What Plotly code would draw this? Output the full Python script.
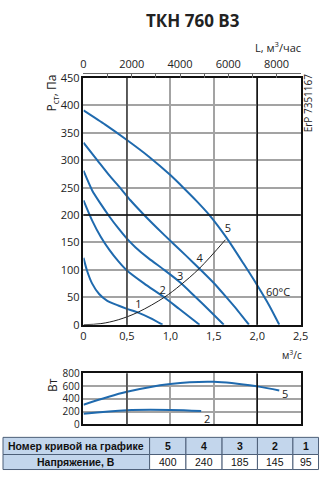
import plotly.graph_objects as go

# ---------------- data ----------------
q5 = [0, 0.25, 0.5, 0.75, 1.0, 1.15, 1.3, 1.45, 1.65, 1.84, 2.0, 2.135, 2.254]
p5 = [391, 365, 337, 307, 273, 250, 226, 200, 158, 112, 72, 36, 0]
q4 = [0, 0.16, 0.3, 0.42, 0.54, 0.687, 0.85, 1.02, 1.18, 1.336, 1.5, 1.634, 1.78, 1.905]
p4 = [332, 300, 272, 250, 227, 202, 176, 150, 126, 102, 76, 52, 25, 0]
q3 = [0, 0.1, 0.2, 0.3, 0.4, 0.5, 0.6, 0.75, 0.929, 1.114, 1.28, 1.45, 1.615]
p3 = [281, 245, 220, 197, 176, 157, 141, 121, 100, 77, 52, 26, 0]
q2 = [0, 0.1, 0.2, 0.3, 0.4, 0.5, 0.7, 0.93, 1.1, 1.336]
p2 = [227, 190, 160, 136, 116, 99, 75, 50, 29, 0]
q1 = [0, 0.04, 0.1, 0.18, 0.27, 0.4, 0.5, 0.63, 0.77, 0.91]
p1 = [122, 99, 75, 56, 44, 35, 29, 22, 12, 0]
q_sys = [0, 0.2, 0.4, 0.63, 0.93, 1.114, 1.336, 1.634]
p_sys = [0, 2, 9, 23, 50, 72, 103, 155]
curve_labels = ["1", "2", "3", "4", "5"]
label_q = [0.632, 0.91, 1.114, 1.336, 1.664]
label_p = [36, 61, 86, 120, 175]

qw5 = [0, 0.5, 1.0, 1.5, 2.0, 2.254]
w5 = [310, 512, 635, 670, 597, 533]
qw2 = [0, 0.5, 1.0, 1.355]
w2 = [168, 224, 228, 212]

x_ticks = [0, 0.5, 1.0, 1.5, 2.0, 2.5]
x_ticktext = ["0", "0,5", "1,0", "1,5", "2,0", "2,5"]
y_ticks = [0, 50, 100, 150, 200, 250, 300, 350, 400, 450]
top_ticks = [0, 2000, 4000, 6000, 8000]
w_ticks = [0, 200, 400, 600, 800]

table_header = ["Номер кривой на графике", "5", "4", "3", "2", "1"]
table_row = ["Напряжение, В", "400", "240", "185", "145", "95"]

BLUE = "#1f6aae"
GRID = "#a3a3a3"
FONT = "Open Sans"
TFILL = "#c3d6ec"
TLINE = "#4d5f78"

fig = go.Figure()
for q, p in [(q1, p1), (q2, p2), (q3, p3), (q4, p4), (q5, p5)]:
    fig.add_trace(go.Scatter(x=q, y=p, mode="lines", line=dict(color=BLUE, width=2, shape="spline", smoothing=0.6),
                             xaxis="x", yaxis="y", hoverinfo="skip", showlegend=False))
fig.add_trace(go.Scatter(x=q_sys, y=p_sys, mode="lines", line=dict(color="#222", width=1, shape="spline"),
                         xaxis="x", yaxis="y", showlegend=False))
fig.add_trace(go.Scatter(x=label_q, y=label_p, mode="text", text=curve_labels,
                         textfont=dict(family=FONT, size=11, color="#222"), xaxis="x", yaxis="y", showlegend=False))
# invisible trace for top axis
fig.add_trace(go.Scatter(x=[0, 9000], y=[0, 0], mode="lines", line=dict(width=0), opacity=0,
                         xaxis="x3", yaxis="y", showlegend=False, hoverinfo="skip"))
# power chart
fig.add_trace(go.Scatter(x=qw5, y=w5, mode="lines", line=dict(color=BLUE, width=2, shape="spline"),
                         xaxis="x2", yaxis="y2", showlegend=False))
fig.add_trace(go.Scatter(x=qw2, y=w2, mode="lines", line=dict(color=BLUE, width=2, shape="spline"),
                         xaxis="x2", yaxis="y2", showlegend=False))

W, H = 327, 477
xd = [83.3 / W, 308.0 / W]
fig.update_layout(
    width=W, height=H, margin=dict(l=0, r=0, t=0, b=0),
    paper_bgcolor="white", plot_bgcolor="white",
    font=dict(family=FONT, size=11, color="#222"),
    xaxis=dict(domain=xd, range=[0, 2.5], tickvals=x_ticks, ticktext=x_ticktext, showgrid=True,
               gridcolor=GRID, gridwidth=1.5, showline=True, linecolor="#111", linewidth=1.5, mirror=True,
               zeroline=False, ticks="", anchor="y", tickfont=dict(size=11)),
    yaxis=dict(domain=[(H - 327) / H, (H - 72.3) / H], range=[0, 450], tickvals=y_ticks, showgrid=True,
               gridcolor=GRID, gridwidth=1.5, showline=True, linecolor="#111", linewidth=1.5, mirror=True,
               zeroline=False, ticks="", anchor="x", tickfont=dict(size=11)),
    xaxis3=dict(overlaying="x", side="top", anchor="free", position=(H - 67) / H, range=[0, 9000],
                tickvals=top_ticks, ticks="inside", ticklen=4, tickcolor="#666",
                minor=dict(tick0=0, dtick=1000, ticks="inside", ticklen=4, tickcolor="#666"),
                showline=True, linecolor="#666", linewidth=1, showgrid=False, zeroline=False,
                tickfont=dict(size=11)),
    xaxis2=dict(domain=xd, range=[0, 2.5], tickvals=[0.5, 1.0, 1.5, 2.0], showticklabels=False,
                showgrid=True, gridcolor=GRID, gridwidth=1.5, showline=True, linecolor="#111", linewidth=1.5,
                mirror=True, zeroline=False, ticks="", anchor="y2"),
    yaxis2=dict(domain=[(H - 430) / H, (H - 377.3) / H], range=[0, 800], tickvals=w_ticks, showgrid=True,
                gridcolor=GRID, gridwidth=1.5, showline=True, linecolor="#111", linewidth=1.5, mirror=True,
                zeroline=False, ticks="", anchor="x2", tickfont=dict(size=10)),
)

# darker grid lines
for xv, col in [(0.5, "#444"), (2.0, "#111")]:
    fig.add_shape(type="line", xref="x", yref="y domain", x0=xv, x1=xv, y0=0, y1=1, line=dict(color=col, width=1.5))
    fig.add_shape(type="line", xref="x2", yref="y2 domain", x0=xv, x1=xv, y0=0, y1=1, line=dict(color=col, width=1.5))
fig.add_shape(type="line", xref="x domain", yref="y", x0=0, x1=1, y0=200, y1=200, line=dict(color="#111", width=1.5))

ann = [
    dict(text="<b>ТКН 760 В3</b>", x=197 / W, y=1 - 13 / H, font=dict(size=17, color="#222")),
    dict(text="L, м<sup>3</sup>/час", x=310 / W, y=1 - 40 / H, xanchor="right", font=dict(size=11)),
    dict(text="Р<sub>ст</sub>, Па", x=51 / W, y=1 - 88 / H, textangle=-90, font=dict(size=12)),
    dict(text="ErP 7351167", x=316 / W, y=1 - 98 / H, textangle=-90, font=dict(size=10)),
    dict(text="м<sup>3</sup>/с", x=311 / W, y=1 - 358 / H, xanchor="right", font=dict(size=10)),
    dict(text="Вт", x=51 / W, y=1 - 389 / H, textangle=-90, font=dict(size=12)),
    dict(text="60°C", x=2.24, y=60, xref="x", yref="y", font=dict(size=11)),
    dict(text="5", x=2.32, y=483, xref="x2", yref="y2", font=dict(size=11)),
    dict(text="2", x=1.42, y=100, xref="x2", yref="y2", font=dict(size=11)),
]

# table drawn with shapes + text
col_edges = [0, 151.7, 189.3, 226.7, 263.3, 300, 326.5]
row_edges = [443.3, 461, 476.5]
rows = [table_header, table_row]
for r in range(2):
    for c in range(6):
        x0, x1 = col_edges[c], col_edges[c + 1]
        y0, y1 = row_edges[r], row_edges[r + 1]
        fill = TFILL if (r == 0 or c == 0) else "white"
        fig.add_shape(type="rect", xref="paper", yref="paper", x0=x0 / W, x1=x1 / W,
                      y0=1 - y1 / H, y1=1 - y0 / H, fillcolor=fill, line=dict(color=TLINE, width=1), layer="below")
        txt = rows[r][c]
        bold = (r == 0 or c == 0)
        ann.append(dict(text=("<b>%s</b>" % txt) if bold else txt, x=(x0 + x1) / 2 / W,
                        y=1 - ((y0 + y1) / 2) / H,
                        font=dict(family="Liberation Sans", size=10.5, color="#111")))

for a in ann:
    a.setdefault("xref", "paper")
    a.setdefault("yref", "paper")
    a.setdefault("xanchor", "center")
    a["showarrow"] = False
    a["yanchor"] = "middle"
    fig.add_annotation(**a)

fig.write_html("out.html")
